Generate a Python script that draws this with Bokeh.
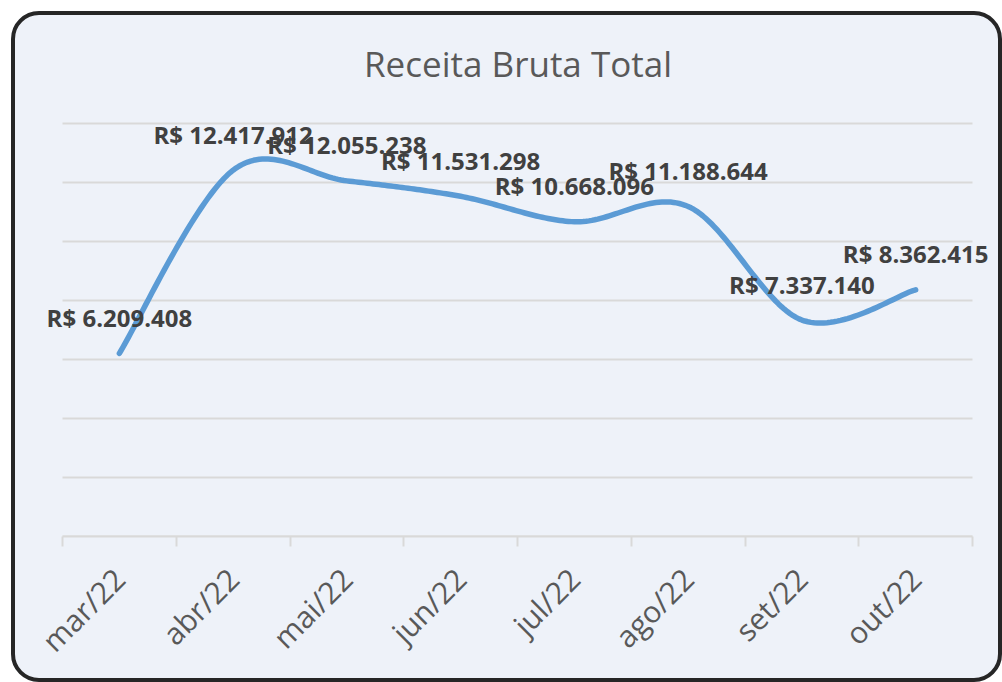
import math
import numpy as np
from bokeh.plotting import figure
from bokeh.models import (Range1d, FixedTicker, CustomJSTickFormatter, Label)
from bokeh.embed import file_html
from bokeh.resources import INLINE

# ---- data ----
months = ["mar/22", "abr/22", "mai/22", "jun/22", "jul/22", "ago/22", "set/22", "out/22"]
receita = [6209408, 12417912, 12055238, 11531298, 10668096, 11188644, 7337140, 8362415]
y_ticks = [0, 2000000, 4000000, 6000000, 8000000, 10000000, 12000000, 14000000]
title_text = "Receita Bruta Total"

n = len(months)
xc = [i + 0.5 for i in range(n)]
labels = ["R$ " + f"{v:,}".replace(",", ".") for v in receita]


# Excel-like smoothed line (Catmull-Rom -> cubic Bezier), computed from the data
def smooth(xs, ys, steps=40):
    P = np.column_stack([xs, ys]).astype(float)
    out_x, out_y = [], []
    for i in range(len(P) - 1):
        p0 = P[i - 1] if i > 0 else P[i]
        p1 = P[i]
        p2 = P[i + 1]
        p3 = P[i + 2] if i + 2 < len(P) else P[i + 1]
        c1 = p1 + (p2 - p0) / 6.0
        c2 = p2 - (p3 - p1) / 6.0
        t = np.linspace(0, 1, steps)
        if i > 0:
            t = t[1:]
        b = ((1 - t) ** 3)[:, None] * p1 + (3 * (1 - t) ** 2 * t)[:, None] * c1 \
            + (3 * (1 - t) * t ** 2)[:, None] * c2 + (t ** 3)[:, None] * p2
        out_x.extend(b[:, 0])
        out_y.extend(b[:, 1])
    return out_x, out_y


sx, sy = smooth(xc, receita)

# layout: category span 910 px wide; value span 0..14M is 413 px tall
W, H = 991, 671
BL, BR = 23, 1
BT, BB = 102, 146
px_per_cat = 910.0 / n
x_start = -(51 - BL) / px_per_cat
x_end = n + (30 - BR) / px_per_cat
frame_h = H - BT - BB
y_end = y_ticks[-1] * frame_h / 413.0

p = figure(width=W, height=H,
           x_range=Range1d(x_start, x_end), y_range=Range1d(0, y_end),
           output_backend="svg", toolbar_location=None,
           y_axis_location=None,
           min_border_left=BL, min_border_right=BR,
           min_border_top=BT, min_border_bottom=BB)
p.margin = (11, 0, 0, 11)
p.background_fill_color = None
p.border_fill_color = None
p.outline_line_color = None
p.styles = {"border-radius": "28px", "background-color": "#EEF2F9",
            "outline": "4px solid #262626", "outline-offset": "-4px"}

# title
p.title.text = title_text
p.title.align = "center"
p.title.text_font = "Open Sans"
p.title.text_font_size = "35px"
p.title.text_font_style = "normal"
p.title.text_color = "#595959"
p.title.standoff = 53

# hide default grids; draw horizontal gridlines across the category span only
for g in p.grid:
    g.visible = False
p.segment(x0=[0] * len(y_ticks), x1=[n] * len(y_ticks), y0=y_ticks, y1=y_ticks,
          line_color="#D9D9D9", line_width=2)

# x axis
ax = p.xaxis[0]
ax.bounds = (0, n)
ax.ticker = FixedTicker(ticks=xc, minor_ticks=list(range(n + 1)))
ax.formatter = CustomJSTickFormatter(args=dict(labels=months),
                                     code="return labels[Math.round(tick - 0.5)];")
ax.axis_line_color = "#D9D9D9"
ax.axis_line_width = 2
ax.major_tick_line_color = None
ax.major_tick_in = 0
ax.major_tick_out = 0
ax.minor_tick_line_color = "#D9D9D9"
ax.minor_tick_line_width = 2
ax.minor_tick_in = 0
ax.minor_tick_out = 10
ax.major_label_orientation = math.pi / 4
ax.major_label_text_font = "Open Sans"
ax.major_label_text_font_size = "30px"
ax.major_label_text_color = "#595959"
ax.major_label_standoff = 27

# smoothed line
p.line(sx, sy, line_color="#5B9BD5", line_width=5.5, line_cap="round", line_join="round")

# data labels
for xv, yv, tv in zip(xc, receita, labels):
    p.add_layout(Label(x=xv, y=yv, text=tv, text_align="center", text_baseline="middle",
                       y_offset=36, text_font="Open Sans", text_font_style="bold",
                       text_font_size="24px", text_color="#404040"))

open("out.html", "w").write(file_html(p, INLINE))
